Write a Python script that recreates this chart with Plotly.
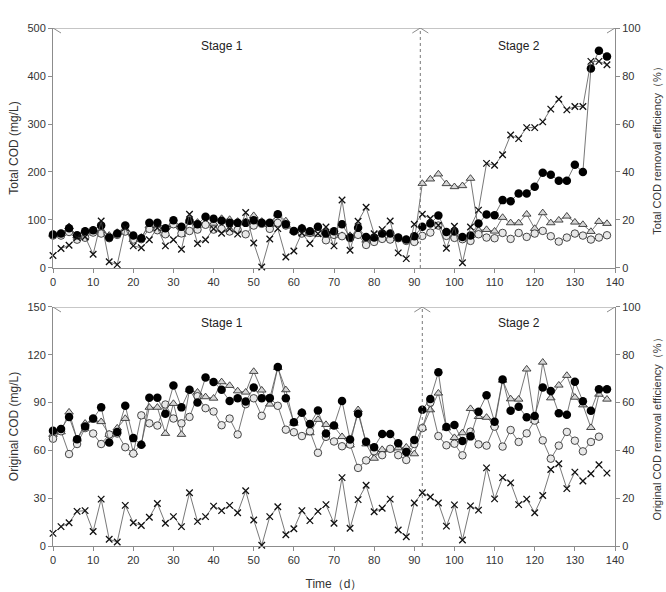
import plotly.graph_objects as go

days = list(range(0, 140, 2))

# ---- Top panel: Total COD (mg/L) and removal efficiency (%) ----
total_in = [69.6, 71.7, 82.9, 68.2, 76.6, 78.7, 88.4, 63.4, 71.7, 88.4, 67.5, 62.0, 94.0, 94.0, 83.0, 99.6,
            85.7, 98.2, 91.2, 106.5, 102.4, 98.2, 94.0, 94.0, 94.0, 99.6, 94.0, 94.0, 112.0, 91.2, 77.3, 82.2,
            76.6, 85.7, 71.7, 76.6,
            91.2, 63.4, 83.6, 64.8, 63.4, 71.7, 71.7, 63.4, 59.2, 66.2,
            85.7, 92.6, 109.3, 75.2, 75.9, 64.8, 67.5, 92.6, 111.4, 110.0, 141.4, 139.3, 155.3, 155.3, 169.2,
            198.5, 194.3, 181.8, 181.8, 215.2, 199.9, 415.7, 452.6, 440.8]
total_out = [67.5, 67.5, 75, 59, 63, 73.8, 71.7, 62, 69, 75.9, 59.2, 60, 81.5, 78.7, 70.3, 91.2,
             72, 77, 80, 90, 80, 81.5, 76, 79.4, 70.3, 88.4, 92, 81.5, 94, 88.4, 76, 71.7,
             73, 73, 57.8, 69,
             66.2, 62, 69, 48, 54.3, 60.6, 59.2, 62, 56.4, 54.3,
             66.9, 73.8, 88.4, 66.9, 62.7, 60, 56.4, 70.3, 63.4, 62, 73, 60.6, 73, 64.8, 71.7,
             77.3, 66.2, 55, 63.4, 71.7, 67.5, 59.2, 63.4, 68.2]
total_mid = [70, 71.6, 86, 67, 77, 79, 78, 68, 74, 80, 59, 64, 88, 87, 71, 90,
             70, 98, 95, 94, 93, 103, 101, 97, 96, 109, 97, 90, 112, 98, 77, 84,
             71, 79, 76, 75,
             67.5, 67.5, 71.7, 57.8, 60.6, 63.4, 61.3, 63.4, 59.2, 56.4,
             176, 185.2, 195.7, 175.5, 169.2, 171.3, 186.6, 78.7, 80, 76.6, 105.2, 94, 94, 112, 82.2,
             114.9, 94, 99.6, 107.9, 95.4, 90.5, 75.9, 96.8, 92.6]
total_eff = [5.2, 8.1, 9.5, 12.7, 13, 5.7, 19.6, 2.6, 1.4, 16.7, 9.2, 8.4, 11.8, 16.7, 9.2, 11.8,
             7.8, 22.4, 10.2, 11.8, 16.3, 14.5, 16.3, 14.1, 23.1, 10.4, 0.4, 12.1, 16.4, 4.6, 7.1, 14.6,
             10.2, 14.3, 17.1, 9.2,
             28.3, 7.4, 19.5, 25.3, 14.3, 16, 19.6, 6.3, 3.9, 18.2,
             22.4, 20.6, 17.8, 8.2, 17.4, 2.2, 17.1, 24.1, 43.6, 42.8, 47.2, 55.4, 53.9, 58.5, 58.5,
             60.9, 66.2, 70.3, 65.9, 67.3, 67.3, 86.1, 86.1, 84.7]

# ---- Bottom panel: Original COD (mg/L) and removal efficiency (%) ----
orig_in = [72.3, 73.5, 81, 67, 75, 80, 87, 65, 71.5, 88, 67.7, 63.5, 93, 93, 83, 100.7,
           87, 98, 90, 105.7, 103, 98, 91, 92.7, 90.7, 99.4, 92.7, 92.7, 112.4, 92.7, 77.7, 83.6,
           76.5, 85, 70.6, 75.6,
           91, 66.8, 83, 65.5, 62, 70.3, 70.3, 64.5, 59, 66.6,
           85.5, 92.3, 109, 74.7, 76, 65.9, 68.8, 84.3, 94.6, 78, 104.5, 84.9, 87.4, 80.8, 81.6,
           99.4, 97.3, 83.3, 82.4, 103.1, 90.8, 84.9, 98.4, 98.4]
orig_out = [67.3, 72, 57.7, 64, 74, 70.6, 64, 70, 70.6, 62, 58, 82, 77, 75.6, 88.8, 80,
            77, 81, 94, 86.5, 84.4, 75.8, 80, 70, 89, 92.7, 81.7, 93, 88, 73, 71.4, 69,
            72, 58.5, 68.5, 65.6,
            62.6, 63.7, 49, 53.7, 59.5, 57, 61, 57, 54, 64,
            74, 90, 69, 63.2, 64.2, 56.9, 71.8, 63.8, 63, 74.9, 62.4, 72.8, 65.3, 70.7, 78.7,
            66.3, 54.8, 63, 71.6, 66.1, 59.4, 65.3, 68.6, None]
orig_mid = [70, 71.6, 84, 67, 77, 79, 78, 70, 74, 80, 58.7, 64, 87, 87, 70.6, 89.4,
            70, 98, 96.5, 93.6, 92.7, 103, 100.7, 97.3, 96.5, 109.5, 97.8, 89, 112, 98, 77, 84,
            71, 79.4, 76.2, 75,
            68.6, 63.4, 85.5, 64, 55, 60.5, 61, 61.5, 62, 57.8,
            74, 85.4, 95.9, 74, 68, 71, 86.2, 81.2, 80.7, 75.9, 104, 92.3, 92.1, 111, 78.7,
            115.3, 92.9, 100.9, 107, 93.3, 88.5, 74.3, 95.2, 92.1]
orig_eff = [5.3, 8.1, 9.7, 14.5, 14.8, 6.1, 19.6, 2.8, 1.7, 17, 9.7, 8.6, 12, 17.8, 9.5, 12.3,
            8.1, 22.3, 10.3, 12.3, 16.7, 14.8, 17, 13.9, 23.1, 10.9, 0.3, 12.3, 16.4, 4.7, 7.2, 14.8,
            10.6, 14.5, 17.3, 9.5,
            28.6, 7.4, 19.4, 25.4, 14.3, 15.8, 19.6, 6.7, 3.9, 18,
            22.3, 20.5, 18, 8.3, 17.2, 2.5, 16.8, 15, 32.7, 19.7, 28.6, 26.4, 17.3, 19.6, 13.9,
            21.1, 32, 34.4, 24, 30.9, 27.2, 30.2, 34, 30.5]

x_ticks = list(range(0, 141, 10))
stage_split_top = 91.5
stage_split_bot = 92.0

LINE = dict(color="#555555", width=0.8)
AX = "#8c8c8c"
FONT = "Liberation Sans, Arial, sans-serif"

fig = go.Figure()

def add_panel(xa, ya, yb, s_in, s_out, s_mid, s_eff):
    fig.add_trace(go.Scatter(x=days, y=s_mid, xaxis=xa, yaxis=ya, mode="lines+markers", line=LINE,
                             cliponaxis=False,
                             marker=dict(symbol="triangle-up", size=7.5, color="#d6d6d6",
                                         line=dict(color="#333", width=0.9))))
    fig.add_trace(go.Scatter(x=days, y=s_out, xaxis=xa, yaxis=ya, mode="lines+markers", line=LINE,
                             cliponaxis=False,
                             marker=dict(symbol="circle", size=7.5, color="#e8e8e8",
                                         line=dict(color="#333", width=0.9))))
    fig.add_trace(go.Scatter(x=days, y=s_in, xaxis=xa, yaxis=ya, mode="lines+markers", line=LINE,
                             cliponaxis=False,
                             marker=dict(symbol="circle", size=8.5, color="#000",
                                         line=dict(color="#000", width=0))))
    fig.add_trace(go.Scatter(x=days, y=s_eff, xaxis=xa, yaxis=yb, mode="lines+markers", line=LINE,
                             cliponaxis=False,
                             marker=dict(symbol="x-thin", size=6.5, color="#000",
                                         line=dict(color="#111", width=1.3))))

add_panel("x", "y", "y2", total_in, total_out, total_mid, total_eff)
add_panel("x2", "y3", "y4", orig_in, orig_out, orig_mid, orig_eff)

tick_font = dict(family=FONT, size=11, color="#333")

def xax(anchor, title=None):
    d = dict(domain=[0, 1], anchor=anchor, range=[0, 140], tickvals=x_ticks, showline=True,
             linecolor=AX, linewidth=1, ticks="outside", ticklen=4, tickcolor=AX, automargin=False,
             showgrid=False, zeroline=False, tickfont=tick_font)
    if title:
        d["title"] = dict(text=title, font=dict(family=FONT, size=12, color="#333"), standoff=14)
    return d

def yax(anchor, dom, rng, dtick, title, side="left", overlay=None):
    tsize = 11 if side == "right" else 12
    d = dict(domain=dom, anchor=anchor, range=rng, dtick=dtick, showline=True, linecolor=AX,
             linewidth=1, ticks="outside", ticklen=4, tickcolor=AX, showgrid=False, zeroline=False,
             tickfont=tick_font, side=side, automargin=False,
             title=dict(text=title, font=dict(family=FONT, size=tsize, color="#333"),
                        standoff=(13 if side == "right" else 6)))
    if overlay:
        d["overlaying"] = overlay
    return d

top_dom = [0.5367, 1.0]
bot_dom = [0.0, 0.4614]

fig.update_layout(
    width=666, height=592, autosize=False,
    margin=dict(l=53, r=51, t=28, b=46),
    paper_bgcolor="white", plot_bgcolor="white",
    showlegend=False,
    font=dict(family=FONT, color="#333"),
    xaxis=xax("y"),
    yaxis=yax("x", top_dom, [0, 500], 100, "Total COD (mg/L)"),
    yaxis2=yax("x", top_dom, [0, 100], 20, "Total COD removal efficiency（%）", side="right", overlay="y"),
    xaxis2=xax("y3", "Time（d）"),
    yaxis3=yax("x2", bot_dom, [0, 150], 30, "Original COD (mg/L)"),
    yaxis4=yax("x2", bot_dom, [0, 100], 20, "Original COD removal efficiency（%）", side="right", overlay="y3"),
)

shapes = []
annotations = []

def stage_decor(xref, yref_main, ytop, split, label_y):
    shapes.append(dict(type="line", xref=xref, yref=yref_main, x0=0, x1=140, y0=ytop, y1=ytop,
                       line=dict(color=AX, width=1)))
    for anchor_x, path in [(0, "M 8,5 L 0,0 L 8,-5"),
                           (split, "M -8,5 L 8,-5 M -8,-5 L 8,5"),
                           (140, "M -8,5 L 0,0 L -8,-5")]:
        shapes.append(dict(type="path", xref=xref, yref=yref_main, xsizemode="pixel", ysizemode="pixel",
                           xanchor=anchor_x, yanchor=ytop, path=path,
                           line=dict(color=AX, width=1)))
    shapes.append(dict(type="line", xref=xref, yref=yref_main, x0=split, x1=split, y0=0, y1=ytop,
                       line=dict(color="#777", width=1, dash="dot")))
    annotations.append(dict(x=42, y=label_y, xref=xref, yref=yref_main, text="Stage 1", showarrow=False,
                            font=dict(family=FONT, size=12, color="#222")))
    annotations.append(dict(x=116, y=label_y, xref=xref, yref=yref_main, text="Stage 2", showarrow=False,
                            font=dict(family=FONT, size=12, color="#222")))

stage_decor("x", "y", 500, stage_split_top, 462)
stage_decor("x2", "y3", 150, stage_split_bot, 140)

fig.update_layout(shapes=shapes, annotations=annotations)

fig.write_html("out.html")
